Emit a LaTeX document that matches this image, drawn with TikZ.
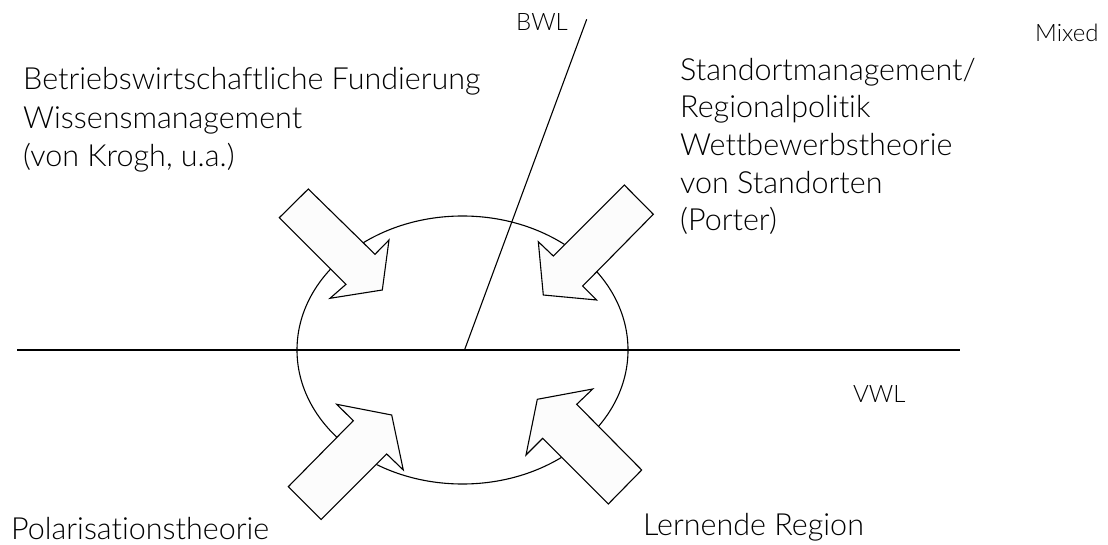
\documentclass[tikz,border=0pt]{standalone}
\usepackage{fontspec}
\setmainfont{Lato Light}[Ligatures=NoCommon]
\usetikzlibrary{shapes.geometric}
\definecolor{arrowfill}{HTML}{FCFCFC}
\tikzset{
  x=1pt, y=-1pt,
  outline/.style={line width=1.1pt, black},
  blockarrow/.style={outline, fill=arrowfill, line join=miter},
  bigtext/.style={anchor=base west, inner sep=0pt, font=\fontsize{30.5}{36}\selectfont},
  smalltext/.style={anchor=base west, inner sep=0pt, font=\fontsize{24}{28}\selectfont},
}
\begin{document}
\begin{tikzpicture}
\useasboundingbox (0,0) rectangle (1108,545);

% central field
\node[outline, draw, ellipse, minimum width=331pt, minimum height=268pt, inner sep=0pt] (core) at (462.5,350) {};

% axes
\coordinate (hL) at (17,350);
\coordinate (hR) at (960,350);
\coordinate (dB) at (464.5,350);
\coordinate (dT) at (586.7,19.3);
\draw[outline] (hL) -- (hR);
\draw[outline] (dB) -- (dT);

% block arrows pointing at the field
\draw[blockarrow] (308.3,189) -- (375,254.3) -- (389,240) -- (382.3,290) -- (330,298.3) -- (346,284.3) -- (279.3,217.7) -- cycle;
\draw[blockarrow] (624.3,185) -- (553.3,256) -- (538.3,241.7) -- (543.3,295) -- (596.7,300) -- (582.7,286) -- (653.3,214.3) -- cycle;
\draw[blockarrow] (288.3,486.7) -- (353.3,420.7) -- (336.7,404.3) -- (391.7,415) -- (403.3,470) -- (386.7,454) -- (321.1,519.5) -- cycle;
\draw[blockarrow] (608.3,504) -- (542.7,438.3) -- (526,455) -- (537.3,399.3) -- (592.7,389) -- (576.7,404.3) -- (641.7,470) -- cycle;

% axis labels
\node[smalltext] (bwl) at (516,31) {BWL};
\node[smalltext] (vwl) at (853,402) {VWL};
\node[smalltext] (mixed) at (1035,42) {Mixed};

% upper left
\node[bigtext] (tl1) at (23,89.3) {Betriebswirtschaftliche Fundierung};
\node[bigtext] (tl2) at (23,128.3) {Wissensmanagement};
\node[bigtext] (tl3) at (23,167) {(von Krogh, u.a.)};

% upper right
\node[bigtext] (tr1) at (680,80.5) {Standortmanagement/};
\node[bigtext] (tr2) at (680,118) {Regionalpolitik};
\node[bigtext] (tr3) at (680,156) {Wettbewerbstheorie};
\node[bigtext] (tr4) at (680,193.5) {von Standorten};
\node[bigtext] (tr5) at (680,231) {(Porter)};

% bottom
\node[bigtext] (bl) at (11,539) {Polarisationstheorie};
\node[bigtext] (br) at (643,535.5) {Lernende Region};
\end{tikzpicture}
\end{document}
